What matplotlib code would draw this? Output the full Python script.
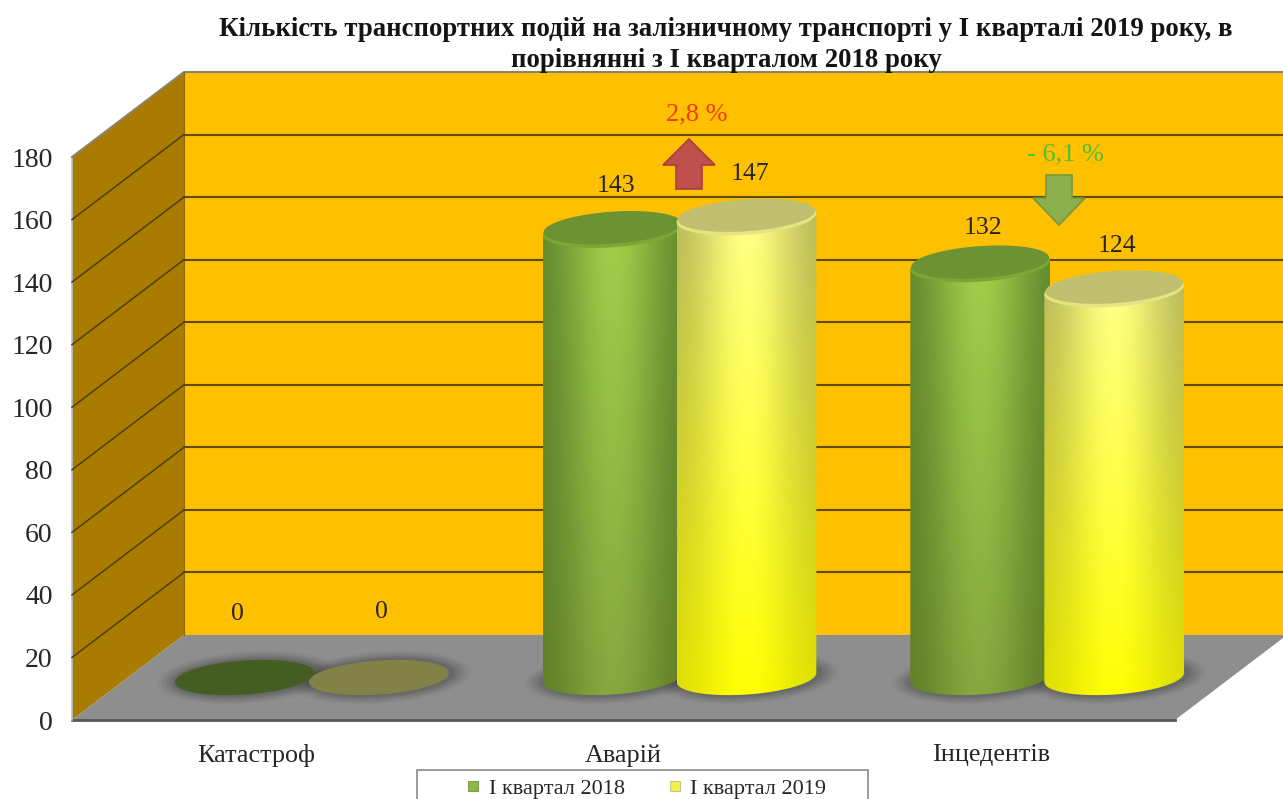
import numpy as np
import matplotlib
matplotlib.use("Agg")
import matplotlib.pyplot as plt
from matplotlib.patches import Polygon, Rectangle
from matplotlib.lines import Line2D

categories = ["Катастроф", "Аварій", "Інцедентів"]
values_2018 = [0, 143, 132]
values_2019 = [0, 147, 124]
series_names = ["І квартал 2018", "І квартал 2019"]
y_ticks = [0, 20, 40, 60, 80, 100, 120, 140, 160, 180]
title = ("Кількість транспортних подій на залізничному транспорті у І кварталі 2019 року, в\n"
         "порівнянні з І кварталом 2018 року")

# label lift above the cylinder top, px
lift_2018 = [64, 44, 37]
lift_2019 = [65, 44, 44]

plt.rcParams['font.family'] = ['Liberation Serif', 'DejaVu Sans']

W, H = 1283, 799
X0, Y0 = 72, 720            # front corner of the plot box, px
SX = 1103 / 3.0             # px per category
SY = 563 / 180.0            # px per unit of value
DX, DY = 112 / SX, 85 / SY  # depth of the box in data units
TEXT = "#262626"

fig = plt.figure(figsize=(W / 100, H / 100), dpi=100)
ax = fig.add_axes([0, 0, 1, 1])
ax.set_xlim(-X0 / SX, (W - X0) / SX)
ax.set_ylim((Y0 - H) / SY, Y0 / SY)
for s in ax.spines.values():
    s.set_visible(False)


def px(x, y):
    # picture position to data position
    return (x - X0) / SX, (Y0 - y) / SY


# walls and floor
far = 3.6
ax.add_patch(Polygon([(DX, DY), (far, DY), (far, 180 + DY), (DX, 180 + DY)], fc="#FFC000", ec="none", zorder=1))
ax.add_patch(Polygon([(0, 0), (DX, DY), (DX, 180 + DY), (0, 180)], fc="#A97C00", ec="none", zorder=1))
ax.add_patch(Polygon([(0, 0), (3, 0), (3 + DX, DY), (far, DY), (far, DY), (DX, DY)], fc="#8E8E8E", ec="none", zorder=1))
ax.plot([0, 3], [0, 0], color="#55585A", lw=2.0, zorder=2)
ax.plot([0, 0], [0, 180], color="#A9C4E0", lw=1.2, zorder=2)
ax.plot([0, DX, far], [180, 180 + DY, 180 + DY], color="#8C8468", lw=1.5, zorder=2)
ax.plot([DX, DX], [DY, 180 + DY], color="#8E6C10", lw=0.8, zorder=2)
for v in y_ticks[1:-1]:
    ax.plot([0, DX], [v, v + DY], color="#4F3D00", lw=1.1, zorder=2)
    ax.plot([DX, far], [v + DY, v + DY], color="#5F4A00", lw=1.5, zorder=2)

RX, RY, TILT = 70.0, 17.0, np.radians(4)


def ring(cx, base, rx=RX, ry=RY, t=None):
    if t is None:
        t = np.linspace(0, 2 * np.pi, 120)
    ex = rx * np.cos(t) * np.cos(TILT) - ry * np.sin(t) * np.sin(TILT)
    ey = rx * np.cos(t) * np.sin(TILT) + ry * np.sin(t) * np.cos(TILT)
    return np.column_stack([cx + ex / SX, base + ey / SY])


def shading(edge, mid, low_edge, low_mid):
    # colours run dark-light-dark across the cylinder, and change from top to bottom
    u = np.linspace(0, 1, 120)
    across = np.exp(-((u - 0.5) / 0.36) ** 2)[None, :, None]
    down = np.linspace(0, 1, 80)[:, None, None]
    top = np.array(edge)[None, None, :] * (1 - across) + np.array(mid)[None, None, :] * across
    low = np.array(low_edge)[None, None, :] * (1 - across) + np.array(low_mid)[None, None, :] * across
    return ((1 - down) * top + down * low) / 255.0


GREEN = dict(edge=(92, 130, 42), mid=(160, 208, 74), low_edge=(92, 122, 38), low_mid=(134, 166, 62),
             cap=(108, 146, 50), rim=(124, 166, 54), zero=(68, 94, 34))
YELLOW = dict(edge=(176, 176, 90), mid=(255, 255, 140), low_edge=(220, 220, 0), low_mid=(255, 255, 0),
              cap=(192, 192, 112), rim=(228, 228, 130), zero=(130, 130, 72))


def rgb(c):
    return tuple(k / 255.0 for k in c)


def shadow(cx, base):
    for grow, a in zip([20, 16, 12, 8, 4], [0.05, 0.07, 0.09, 0.11, 0.13]):
        ax.add_patch(Polygon(ring(cx + 2 / SX, base, RX + grow, RY + grow * 0.45),
                             fc="#303030", ec="none", alpha=a, zorder=3))


def cylinder(cx, value, base, style, z):
    if value == 0:
        ax.add_patch(Polygon(ring(cx, base), fc=rgb(style['zero']), ec="none", zorder=z + 2))
        return
    t0 = np.arctan2(-RY * np.sin(TILT), RX * np.cos(TILT))
    arc = ring(cx, base, t=np.linspace(t0 + np.pi, t0 + 2 * np.pi, 60))
    body = Polygon(np.vstack([arc, arc[-1] + [0, value], arc[0] + [0, value]]), fc="none", ec="none", zorder=z)
    ax.add_patch(body)
    left, right = arc[:, 0].min(), arc[:, 0].max()
    im = ax.imshow(shading(style['edge'], style['mid'], style['low_edge'], style['low_mid']),
                   extent=(left, right, base - 30 / SY, base + value + 20 / SY), aspect="auto",
                   interpolation="bilinear", zorder=z)
    im.set_clip_path(body)
    ax.add_patch(Polygon(ring(cx, base + value), fc=rgb(style['rim']), ec="none", zorder=z + 1))
    ax.add_patch(Polygon(ring(cx, base + value + 2.5 / SY, RX - 1, RY - 1), fc=rgb(style['cap']), ec="none", zorder=z + 2))


offset = 67 / SX
centers = np.arange(len(categories)) + 0.5 + DX / 2
base = DY / 2

for c in centers:
    shadow(c - offset, base)
    shadow(c + offset, base)
for i, c in enumerate(centers):
    cylinder(c - offset, values_2018[i], base, GREEN, 10)
    cylinder(c + offset, values_2019[i], base, YELLOW, 14)

for c, v, lift in zip(centers - offset, values_2018, lift_2018):
    ax.text(c + 3 / SX if v else c - 7 / SX, base + v + lift / SY, str(v), ha="center", va="center",
            fontsize=18.5, color=TEXT, zorder=20)
for c, v, lift in zip(centers + offset, values_2019, lift_2019):
    ax.text(c + 3 / SX, base + v + lift / SY, str(v), ha="center", va="center",
            fontsize=18.5, color=TEXT, zorder=20)

# change markers
ux, uy = px(689, 189)
ax.arrow(ux, uy, 0, 50 / SY, width=26 / SX, head_width=52 / SX, head_length=26 / SY,
         length_includes_head=True, fc="#C0504D", ec="#A5403E", lw=1.2, zorder=18)
ax.text(*px(697, 114), "2,8 %", color="#F5391C", fontsize=19, ha="center", va="center", zorder=20)
dx_, dy_ = px(1059, 175)
ax.arrow(dx_, dy_, 0, -50 / SY, width=26 / SX, head_width=52 / SX, head_length=27 / SY,
         length_includes_head=True, fc="#8DB04E", ec="#76983C", lw=1.2, zorder=18)
ax.text(*px(1065, 154), "- 6,1 %", color="#4FBF3C", fontsize=19, ha="center", va="center", zorder=20)

# axes text
ax.set_yticks(y_ticks)
ax.set_xticks(np.arange(len(categories)) + 0.5)
ax.set_xticklabels(categories)
ax.tick_params(axis='y', length=0, pad=-38, labelsize=20, labelcolor=TEXT)
ax.tick_params(axis='x', length=0, pad=-39.5, labelsize=18.8, labelcolor=TEXT)
for lab in ax.get_xticklabels() + ax.get_yticklabels():
    lab.set_zorder(20)
ax.text(*px(726, 45), title, ha="center", va="center", fontsize=19.3, fontweight="bold",
        color="#141414", linespacing=1.32, zorder=20)

# legend, its box runs off the bottom of the picture
lx, ly = px(417, 770)
lx2, ly2 = px(868, 812)
ax.add_patch(Rectangle((lx, ly2), lx2 - lx, ly - ly2, fc="white", ec="#8A8A8A", lw=1.2, zorder=19, clip_on=True))
handles = [Line2D([], [], ls="none", marker="s", ms=7.5, mfc="#8DB845", mec="#7F9A55", mew=0.8),
           Line2D([], [], ls="none", marker="s", ms=7.5, mfc="#F2F24A", mec="#C8C88A", mew=0.8)]
leg = ax.legend(handles, series_names, ncols=2, frameon=False, fontsize=16, loc="center",
                bbox_to_anchor=((647 / W), 1 - 789 / H), borderpad=0, handlelength=0.5,
                handletextpad=0.45, columnspacing=2.0, labelcolor=TEXT)
leg.set_zorder(21)

fig.savefig("out.png", dpi=100)
